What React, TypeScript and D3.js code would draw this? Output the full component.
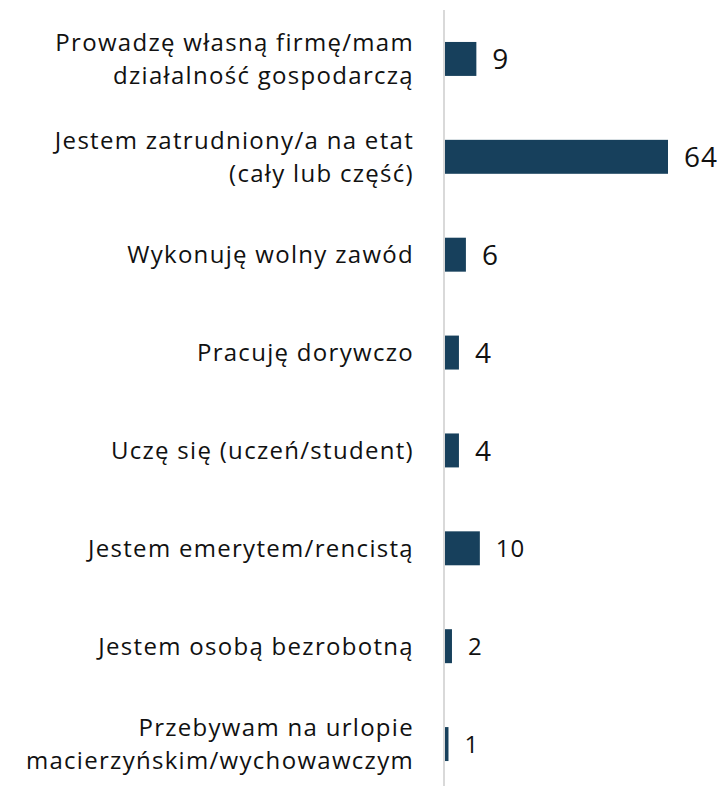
import React, { useEffect, useRef } from "react";
import * as d3 from "d3";

const CATEGORIES = [
  "Prowadzę własną firmę/mam\ndziałalność gospodarczą",
  "Jestem zatrudniony/a na etat\n(cały lub część)",
  "Wykonuję wolny zawód",
  "Pracuję dorywczo",
  "Uczę się (uczeń/student)",
  "Jestem emerytem/rencistą",
  "Jestem osobą bezrobotną",
  "Przebywam na urlopie\nmacierzyńskim/wychowawczym",
];

const VALUES = [9, 64, 6, 4, 4, 10, 2, 1];

const WIDTH = 725;
const HEIGHT = 786;
const FONT = "'Open Sans', 'Noto Sans', sans-serif";

export default function App() {
  const svgRef = useRef<SVGSVGElement>(null);

  useEffect(() => {
    if (!svgRef.current) return;
    const svg = d3.select(svgRef.current);
    svg.selectAll("*").remove();

    const axisX = 445;

    const x = d3.scaleLinear().domain([0, 64]).range([axisX, 668]);
    const y = d3.scaleBand<number>()
      .domain(d3.range(CATEGORIES.length))
      .range([10, 793])
      .paddingInner(0.653)
      .paddingOuter(0.3265);

    // bars
    svg.append("g")
      .selectAll("rect")
      .data(VALUES)
      .enter()
      .append("rect")
      .attr("x", axisX)
      .attr("y", (d, i) => y(i)!)
      .attr("width", d => x(d) - axisX)
      .attr("height", y.bandwidth())
      .attr("fill", "#17405c");

    // axis line
    svg.append("line")
      .attr("x1", axisX - 1)
      .attr("x2", axisX - 1)
      .attr("y1", 10)
      .attr("y2", HEIGHT)
      .attr("stroke", "#d9d9d9")
      .attr("stroke-width", 2);

    // value labels
    svg.append("g")
      .selectAll("text")
      .data(VALUES)
      .enter()
      .append("text")
      .attr("x", d => x(d) + 16)
      .attr("y", (d, i) => y(i)! + y.bandwidth() / 2)
      .attr("dy", "0.36em")
      .attr("font-family", FONT)
      .attr("font-size", (d, i) => (i < 5 ? 28 : 24))
      .attr("letter-spacing", 1)
      .attr("fill", "#111")
      .text(d => d);

    // category labels
    const labels = svg.append("g")
      .selectAll("text")
      .data(CATEGORIES)
      .enter()
      .append("text")
      .attr("text-anchor", "end")
      .attr("font-family", FONT)
      .attr("font-size", 24)
      .attr("letter-spacing", 1.3)
      .attr("fill", "#111");

    labels.each(function (d, i) {
      const lines = d.split("\n");
      const cy = y(i)! + y.bandwidth() / 2;
      const lh = 33;
      const t = d3.select(this);
      lines.forEach((line, j) => {
        t.append("tspan")
          .attr("x", 414)
          .attr("y", cy + (j - (lines.length - 1) / 2) * lh)
          .attr("dy", "0.36em")
          .text(line);
      });
    });
  }, []);

  return (
    <svg
      ref={svgRef}
      width={WIDTH}
      height={HEIGHT}
      style={{ position: "absolute", left: 0, top: 0, background: "#fff" }}
    />
  );
}
